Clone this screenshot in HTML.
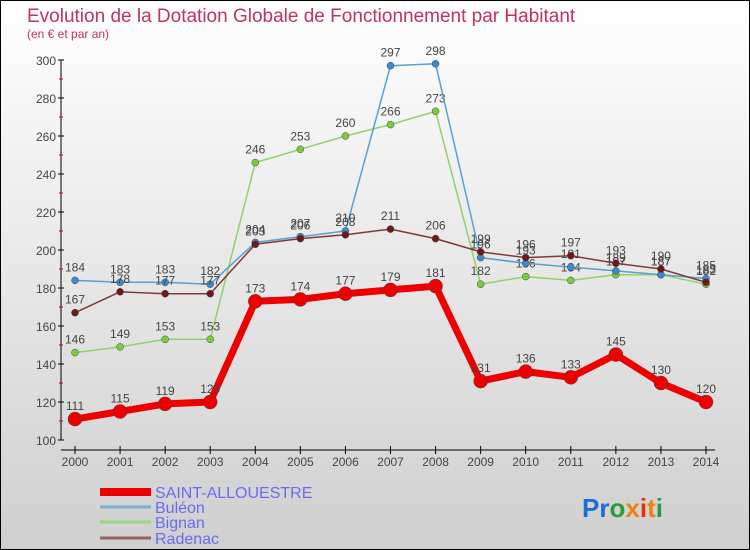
<!DOCTYPE html>
<html><head><meta charset="utf-8"><style>
html,body{margin:0;padding:0;width:750px;height:550px;overflow:hidden}
svg{display:block;font-family:"Liberation Sans",sans-serif}
</style></head><body>
<svg id="chart" width="750" height="550" xmlns="http://www.w3.org/2000/svg">
<defs><linearGradient id="bg" x1="0" y1="0" x2="0" y2="1"><stop offset="0" stop-color="#ffffff"/><stop offset="1" stop-color="#cfcfcf"/></linearGradient></defs>
<rect x="0.5" y="0.5" width="749" height="549" fill="url(#bg)" stroke="#000"/>
<text x="27" y="22" font-size="19" fill="#c0306a">Evolution de la Dotation Globale de Fonctionnement par Habitant</text>
<text x="27" y="38" font-size="12" fill="#c0306a">(en € et par an)</text>
<g id="axes"></g>
<g id="series"></g>
<g id="legend"></g>
<text x="582" y="517" font-size="26" font-weight="bold"><tspan fill="#1a6fd0">Pr</tspan><tspan fill="#2a9a3a">o</tspan><tspan fill="#f08010">x</tspan><tspan fill="#e03010">i</tspan><tspan fill="#f08010">t</tspan><tspan fill="#2a9a3a">i</tspan></text>
</svg>
<script>
const years=[2000,2001,2002,2003,2004,2005,2006,2007,2008,2009,2010,2011,2012,2013,2014];
const saint=[111,115,119,120,173,174,177,179,181,131,136,133,145,130,120];
const buleon=[184,183,183,182,204,207,210,297,298,196,193,191,189,187,185];
const bignan=[146,149,153,153,246,253,260,266,273,182,186,184,187,187,182];
const radenac=[167,178,177,177,203,206,208,211,206,199,196,197,193,190,183];
const yTicks=[100,120,140,160,180,200,220,240,260,280,300];
const names=["SAINT-ALLOUESTRE","Buléon","Bignan","Radenac"];
const NS="http://www.w3.org/2000/svg";
const x=i=>75+i*(706-75)/(years.length-1);
const y=v=>440-(v-100)*1.9;
function mk(t,a,p){const e=document.createElementNS(NS,t);for(const k in a)e.setAttribute(k,a[k]);p.appendChild(e);return e;}
const ax=document.getElementById('axes');
let e=mk('line',{x1:61,y1:y(300),x2:61,y2:440,stroke:'#000'},ax);


e=mk('line',{x1:61,y1:450,x2:715,y2:450,stroke:'#000'},ax);


yTicks.forEach(v=>{
 mk('line',{x1:58,y1:y(v),x2:64,y2:y(v),stroke:'#000'},ax);
 if(v<300)mk('line',{x1:59,y1:y(v+10),x2:63,y2:y(v+10),stroke:'#c00'},ax);
 const t=mk('text',{x:56,y:y(v)+5,'font-size':12,fill:'#444','text-anchor':'end'},ax);t.textContent=v;
 
 
});
years.forEach((yr,i)=>{
 mk('line',{x1:x(i),y1:446,x2:x(i),y2:454,stroke:'#000'},ax);
 const t=mk('text',{x:x(i),y:466,'font-size':12,fill:'#444','text-anchor':'middle'},ax);t.textContent=yr;
 
 
});
const sg=document.getElementById('series');
function draw(data,col,dot,w,r,name){
 const g=mk('g',{},sg);
 
 
 mk('polyline',{points:data.map((v,i)=>x(i)+','+y(v)).join(' '),fill:'none',stroke:col,'stroke-width':w,'stroke-linejoin':'round'},g);
 data.forEach((v,i)=>{
  const c=mk('circle',{cx:x(i),cy:y(v),r:r,fill:dot,stroke:'#444','stroke-width':0.5},g);
  
  
  const t=mk('text',{x:x(i),y:y(v)-9,'font-size':12,fill:'#444','text-anchor':'middle'},g);t.textContent=v;
  
  
 });
}
draw(bignan,'#8ed36a','#7acc3a',1.5,3.5,'bignan');
draw(buleon,'#5a9fd0','#3a8ad0',1.5,3.5,'buleon');
draw(radenac,'#803838','#701818',1.5,3.5,'radenac');
draw(saint,'#ee0000','#ee0000',7,7,'saint-allouestre');
const lg=document.getElementById('legend');
const lc=['#ee0000','#7aaed0','#98d880','#9a6060'],lw=[8,3,3,3],ly=[492,507,522,538];
names.forEach((n,i)=>{
 mk('line',{x1:100,y1:ly[i],x2:151,y2:ly[i],stroke:lc[i],'stroke-width':lw[i]},lg);
 const t=mk('text',{x:155,y:ly[i]+6,'font-size':16,fill:'#6a6af0'},lg);t.textContent=n;
 
 
});
</script>
</body></html>
